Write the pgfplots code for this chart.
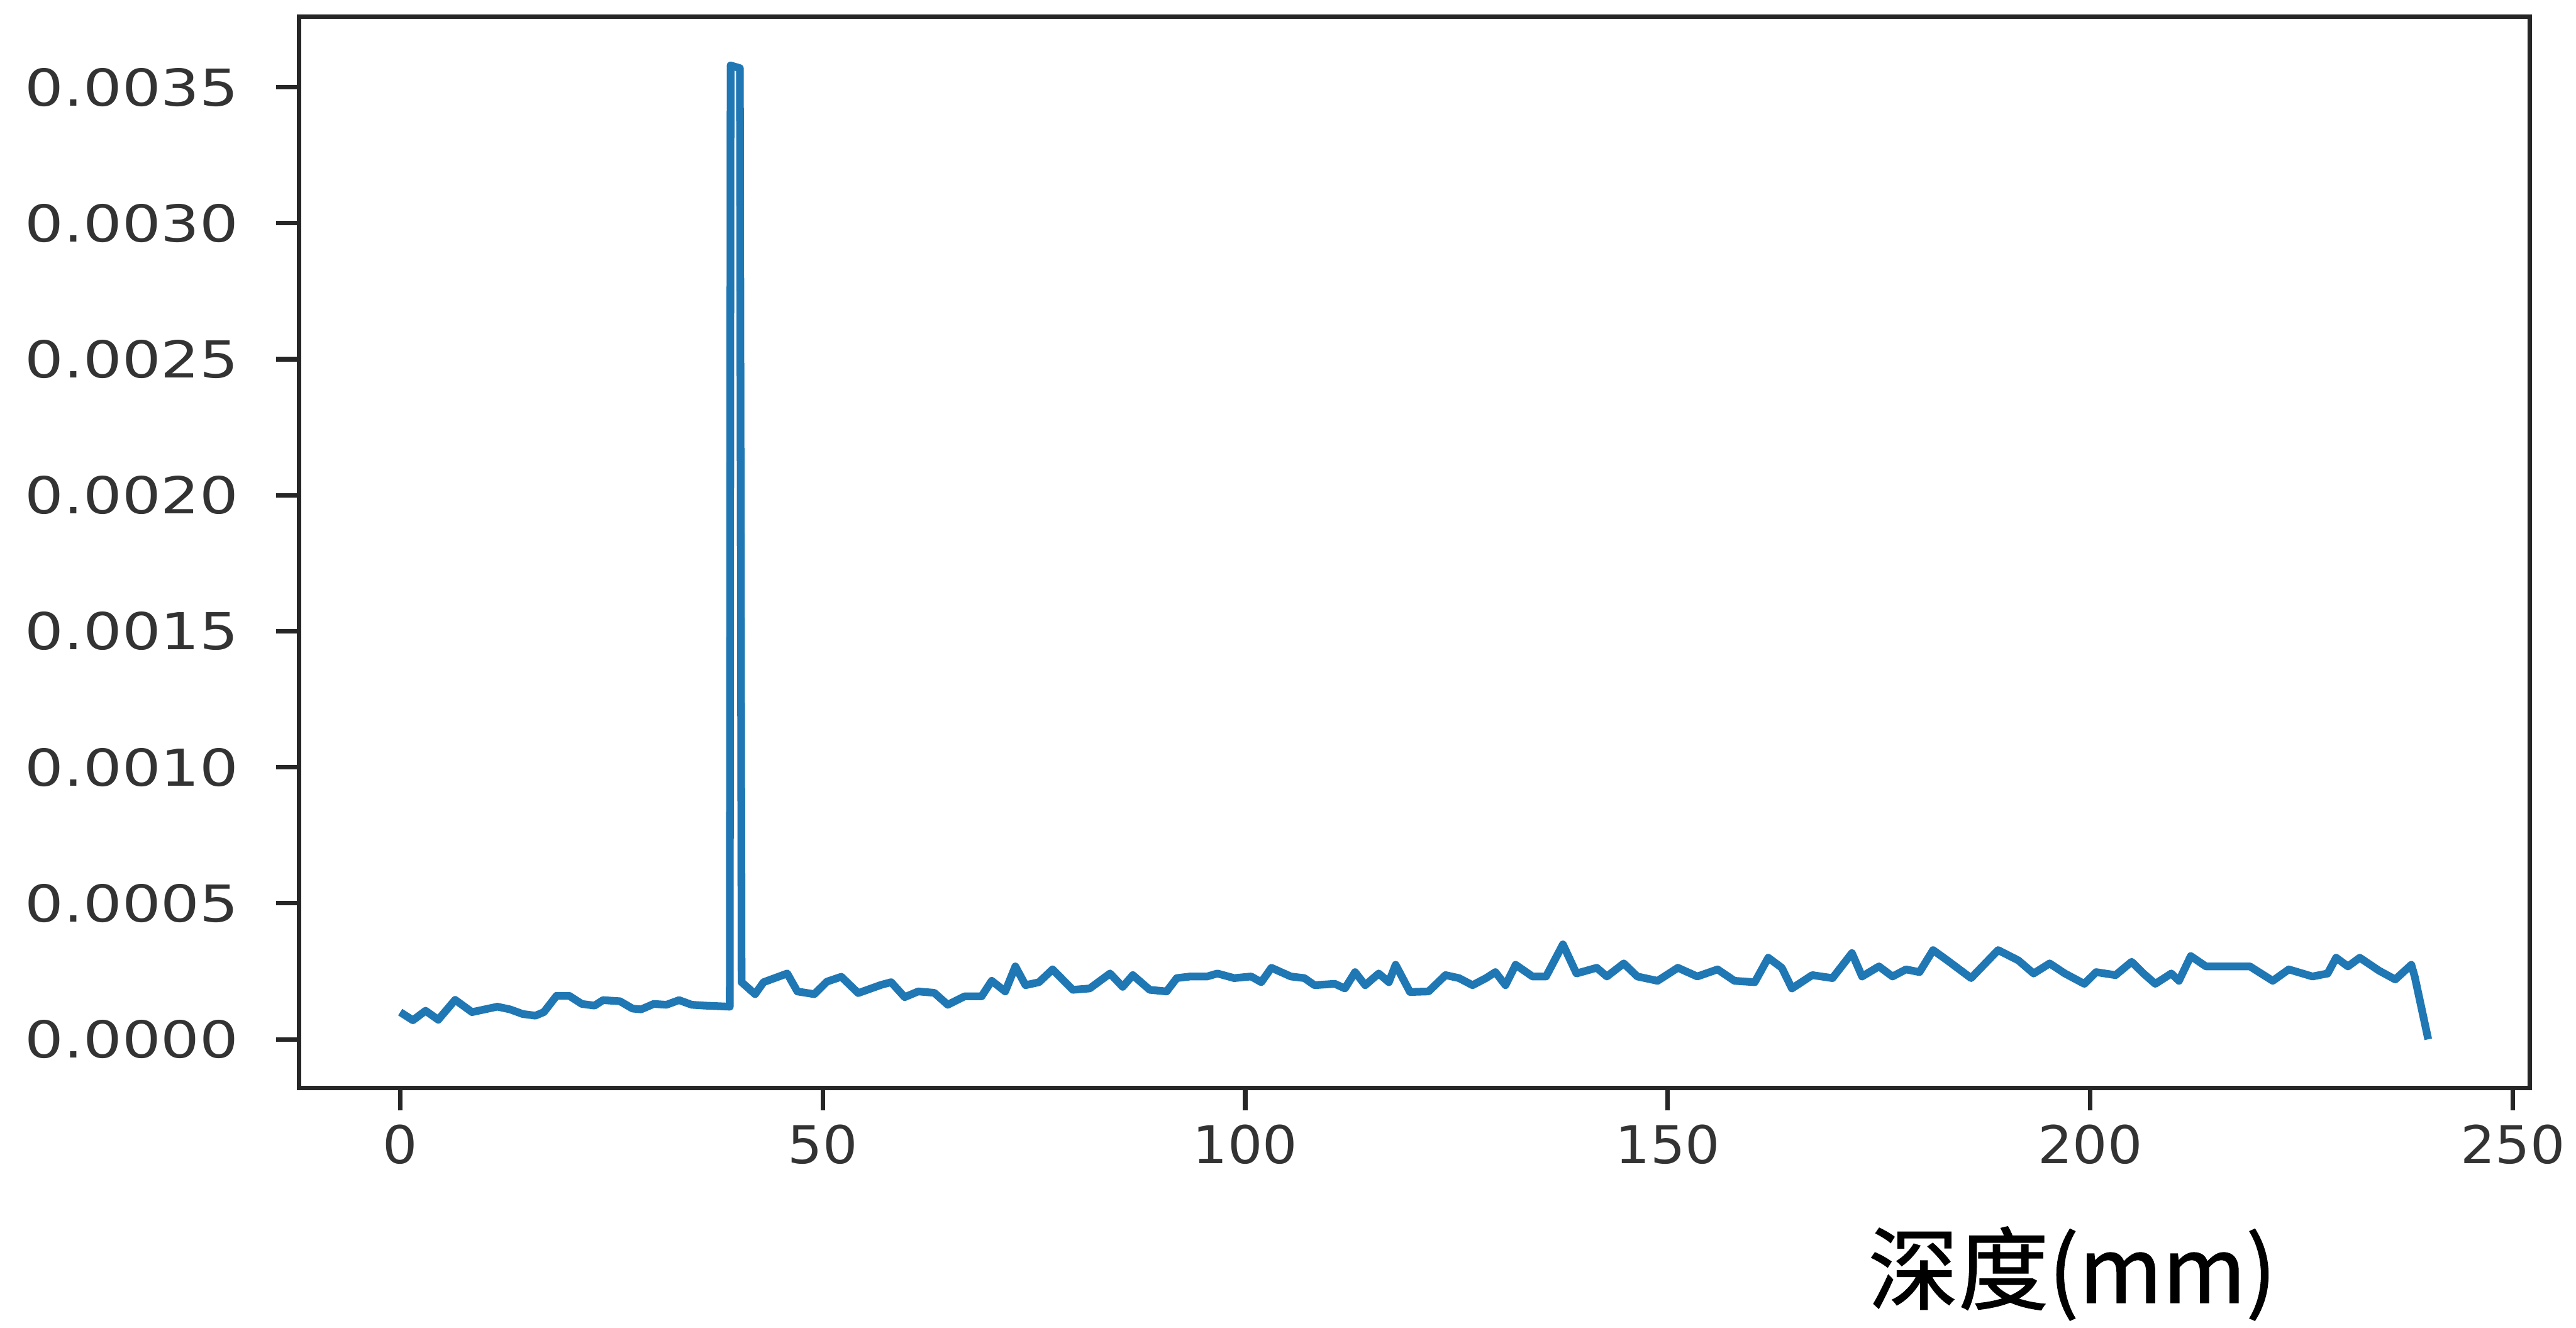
\documentclass[border=0pt]{standalone}
\usepackage{pgfplots}
\pgfplotsset{compat=1.18}
\usepackage{fontspec}
\newfontfamily\tickfont[FakeStretch=1.05]{DejaVu Sans}
\newfontfamily\ytickfont[FakeStretch=1.2]{DejaVu Sans}
\newfontfamily\cjk[FakeBold=1]{Noto Sans CJK SC}
\definecolor{mplblue}{HTML}{1F77B4}
\begin{document}
\begin{tikzpicture}
\useasboundingbox (-46.4pt,-37.2pt) rectangle (353.6pt,168.9pt);
\begin{axis}[
  at={(0,0)}, anchor=south west,
  width=346.4pt, height=166.3pt, scale only axis,
  xmin=-12, xmax=252, ymin=-0.000179, ymax=0.003759,
  axis line style={black!85, line width=0.7pt},
  tick pos=left, tick align=outside, major tick length=3.5pt,
  tick style={black!85, line width=0.7pt},
  xtick={0,50,100,150,200,250},
  ytick={0,0.0005,0.001,0.0015,0.002,0.0025,0.003,0.0035},
  scaled y ticks=false,
  yticklabel style={/pgf/number format/fixed, /pgf/number format/fixed zerofill, /pgf/number format/precision=4, font=\ytickfont\fontsize{7.9}{9}\selectfont, xshift=-2.3pt},
  xticklabel style={font=\tickfont\fontsize{8.1}{9}\selectfont, yshift=1.3pt},
  /pgf/number format/assume math mode=true,
  tick label style={text=black!80},
  xlabel={\cjk 深度(mm)},
  xlabel style={at={(axis description cs:0.795,0)}, anchor=center, yshift=-28.8pt, font=\fontsize{14}{16}\selectfont},
]
\addplot[mplblue, line width=1.2pt, mark=none, line join=round] coordinates {
(0,1.00e-4) (1.5,0.70e-4) (3,1.05e-4) (4.5,0.72e-4) (6.5,1.45e-4) (8.5,1.00e-4)
(10,1.10e-4) (11.5,1.20e-4) (13,1.10e-4) (14.5,0.93e-4) (16,0.87e-4) (17,1.00e-4)
(18.5,1.60e-4) (20,1.60e-4) (21.5,1.30e-4) (23,1.24e-4) (24,1.44e-4) (26,1.40e-4)
(27.5,1.13e-4) (28.5,1.10e-4) (30,1.30e-4) (31.5,1.27e-4) (33,1.44e-4) (34.5,1.27e-4)
(36,1.24e-4) (39.0,1.20e-4) (39.1,35.8e-4) (40.2,35.7e-4) (40.4,2.10e-4)
(42,1.66e-4) (43,2.10e-4) (45.8,2.42e-4) (47,1.76e-4) (49,1.66e-4) (50.5,2.12e-4)
(52.2,2.30e-4) (54.2,1.70e-4) (56.9,2.00e-4) (58.1,2.10e-4) (59.7,1.55e-4) (61.3,1.76e-4)
(63.2,1.71e-4) (64.8,1.27e-4) (66.8,1.58e-4) (68.8,1.58e-4) (70,2.15e-4) (71.6,1.76e-4)
(72.8,2.68e-4) (74,1.99e-4) (75.6,2.10e-4) (77.2,2.57e-4) (79.6,1.82e-4) (81.6,1.87e-4)
(84,2.42e-4) (85.5,1.93e-4) (86.7,2.36e-4) (88.7,1.82e-4) (90.7,1.76e-4) (91.9,2.25e-4)
(93.5,2.31e-4) (95.5,2.31e-4) (96.7,2.42e-4) (98.7,2.25e-4) (100.7,2.31e-4) (101.9,2.10e-4)
(103.1,2.63e-4) (105.4,2.31e-4) (107,2.25e-4) (108.2,1.99e-4) (110.6,2.04e-4) (111.8,1.87e-4)
(113,2.47e-4) (114.2,1.99e-4) (115.8,2.42e-4) (117,2.10e-4) (117.8,2.74e-4) (119.5,1.74e-4)
(121.7,1.76e-4) (123.7,2.36e-4) (125.3,2.25e-4) (126.9,1.99e-4) (128.5,2.25e-4) (129.6,2.47e-4)
(130.8,1.99e-4) (132,2.74e-4) (134,2.31e-4) (135.6,2.31e-4) (137.6,3.49e-4) (139.2,2.42e-4)
(141.6,2.63e-4) (142.8,2.31e-4) (144.8,2.79e-4) (146.4,2.31e-4) (148.8,2.15e-4) (151.2,2.63e-4)
(153.5,2.31e-4) (155.9,2.57e-4) (157.9,2.15e-4) (160.3,2.10e-4) (161.9,3.00e-4) (163.5,2.63e-4)
(164.7,1.87e-4) (167.1,2.36e-4) (169.5,2.25e-4) (171.8,3.17e-4) (173,2.31e-4) (175,2.68e-4)
(176.6,2.31e-4) (178.2,2.57e-4) (179.8,2.47e-4) (181.4,3.28e-4) (183.1,2.90e-4) (185.9,2.25e-4)
(189.1,3.28e-4) (191.5,2.90e-4) (193.3,2.42e-4) (195.2,2.79e-4) (197,2.42e-4) (199.3,2.04e-4)
(200.7,2.47e-4) (203,2.36e-4) (204.9,2.85e-4) (206.3,2.42e-4) (207.7,2.04e-4) (209.6,2.42e-4)
(210.5,2.15e-4) (211.9,3.06e-4) (213.7,2.68e-4) (216.5,2.68e-4) (218.9,2.68e-4) (221.6,2.15e-4)
(223.5,2.57e-4) (226.3,2.31e-4) (228.1,2.42e-4) (229.1,3.00e-4) (230.5,2.68e-4) (231.9,3.00e-4)
(234.2,2.52e-4) (236.1,2.20e-4) (238,2.74e-4) (238.4,2.31e-4) (240,0.00e-4)
};
\end{axis}
\end{tikzpicture}
\end{document}
